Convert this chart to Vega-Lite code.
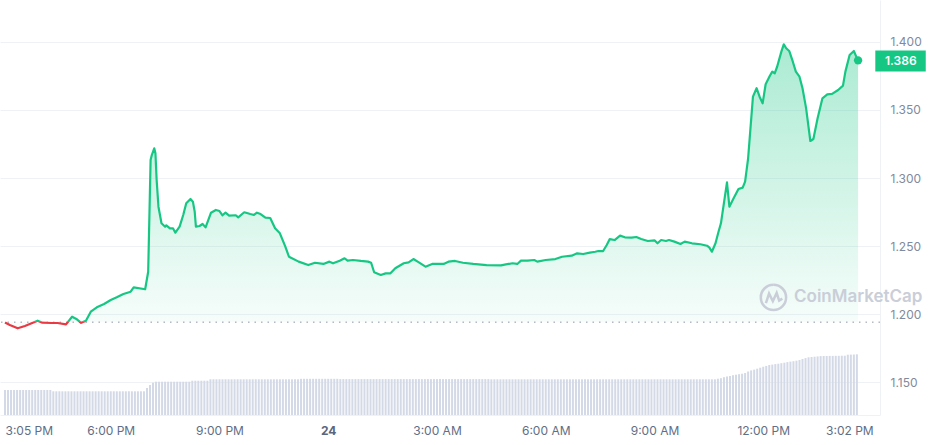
{
"$schema": "https://vega.github.io/schema/vega-lite/v6.json",
"width": 880, "height": 415,
"autosize": {"type": "none"},
"padding": {"left": 0, "top": 0, "right": 51, "bottom": 30},
"background": "white",
"config": {"view": {"stroke": null}, "font": "Inter"},
"datasets": {
"price": [
{"m":0,"p":1.1938},{"m":8,"p":1.1919},{"m":21,"p":1.1895},{"m":33,"p":1.1912},{"m":44,"p":1.1932},{"m":54,"p":1.1951},{"m":62,"p":1.1936},{"m":77,"p":1.1934},{"m":87,"p":1.1934},{"m":101,"p":1.1924},{"m":111,"p":1.1980},{"m":119,"p":1.1961},{"m":126,"p":1.1935},{"m":134,"p":1.1951},{"m":142,"p":1.2017},{"m":152,"p":1.2049},{"m":164,"p":1.2074},{"m":175,"p":1.2103},{"m":185,"p":1.2123},{"m":196,"p":1.2147},{"m":208,"p":1.2164},{"m":213,"p":1.2196},{"m":232,"p":1.2182},{"m":237,"p":1.2311},{"m":241,"p":1.3132},{"m":243,"p":1.3169},{"m":247,"p":1.3218},{"m":249,"p":1.3182},{"m":251,"p":1.2985},{"m":254,"p":1.2789},{"m":259,"p":1.2667},{"m":265,"p":1.2642},{"m":267,"p":1.2652},{"m":273,"p":1.2630},{"m":278,"p":1.2630},{"m":282,"p":1.2598},{"m":289,"p":1.2642},{"m":295,"p":1.2728},{"m":300,"p":1.2814},{"m":307,"p":1.2846},{"m":311,"p":1.2826},{"m":314,"p":1.2752},{"m":316,"p":1.2642},{"m":322,"p":1.2647},{"m":327,"p":1.2662},{"m":332,"p":1.2637},{"m":341,"p":1.2745},{"m":349,"p":1.2765},{"m":355,"p":1.2757},{"m":360,"p":1.2726},{"m":365,"p":1.2745},{"m":371,"p":1.2723},{"m":382,"p":1.2726},{"m":386,"p":1.2711},{"m":396,"p":1.2748},{"m":406,"p":1.2735},{"m":412,"p":1.2728},{"m":417,"p":1.2745},{"m":423,"p":1.2735},{"m":431,"p":1.2708},{"m":439,"p":1.2706},{"m":447,"p":1.2630},{"m":455,"p":1.2593},{"m":464,"p":1.2495},{"m":470,"p":1.2421},{"m":475,"p":1.2410},{"m":486,"p":1.2385},{"m":502,"p":1.2360},{"m":513,"p":1.2377},{"m":527,"p":1.2368},{"m":537,"p":1.2385},{"m":543,"p":1.2373},{"m":554,"p":1.2392},{"m":562,"p":1.2410},{"m":567,"p":1.2392},{"m":576,"p":1.2397},{"m":589,"p":1.2390},{"m":601,"p":1.2385},{"m":606,"p":1.2377},{"m":611,"p":1.2307},{"m":622,"p":1.2287},{"m":630,"p":1.2299},{"m":638,"p":1.2299},{"m":646,"p":1.2336},{"m":660,"p":1.2373},{"m":668,"p":1.2380},{"m":676,"p":1.2404},{"m":685,"p":1.2380},{"m":696,"p":1.2348},{"m":707,"p":1.2368},{"m":726,"p":1.2368},{"m":734,"p":1.2385},{"m":745,"p":1.2390},{"m":758,"p":1.2377},{"m":775,"p":1.2368},{"m":797,"p":1.2360},{"m":821,"p":1.2358},{"m":829,"p":1.2365},{"m":840,"p":1.2373},{"m":848,"p":1.2368},{"m":854,"p":1.2392},{"m":865,"p":1.2392},{"m":876,"p":1.2397},{"m":881,"p":1.2385},{"m":895,"p":1.2397},{"m":911,"p":1.2404},{"m":922,"p":1.2421},{"m":938,"p":1.2429},{"m":947,"p":1.2446},{"m":957,"p":1.2441},{"m":968,"p":1.2451},{"m":977,"p":1.2458},{"m":982,"p":1.2463},{"m":990,"p":1.2463},{"m":996,"p":1.2507},{"m":1001,"p":1.2551},{"m":1009,"p":1.2544},{"m":1018,"p":1.2576},{"m":1026,"p":1.2564},{"m":1037,"p":1.2561},{"m":1045,"p":1.2566},{"m":1053,"p":1.2551},{"m":1064,"p":1.2537},{"m":1075,"p":1.2542},{"m":1080,"p":1.2520},{"m":1086,"p":1.2544},{"m":1094,"p":1.2537},{"m":1099,"p":1.2544},{"m":1108,"p":1.2532},{"m":1118,"p":1.2515},{"m":1125,"p":1.2532},{"m":1137,"p":1.2520},{"m":1151,"p":1.2513},{"m":1162,"p":1.2502},{"m":1166,"p":1.2488},{"m":1170,"p":1.2458},{"m":1176,"p":1.2520},{"m":1181,"p":1.2605},{"m":1185,"p":1.2667},{"m":1195,"p":1.2968},{"m":1199,"p":1.2789},{"m":1206,"p":1.2851},{"m":1214,"p":1.2919},{"m":1221,"p":1.2929},{"m":1225,"p":1.2973},{"m":1230,"p":1.3145},{"m":1238,"p":1.3598},{"m":1244,"p":1.3660},{"m":1249,"p":1.3598},{"m":1254,"p":1.3549},{"m":1259,"p":1.3689},{"m":1266,"p":1.3752},{"m":1270,"p":1.3782},{"m":1274,"p":1.3770},{"m":1278,"p":1.3818},{"m":1285,"p":1.3929},{"m":1289,"p":1.3983},{"m":1293,"p":1.3954},{"m":1298,"p":1.3934},{"m":1304,"p":1.3855},{"m":1309,"p":1.3782},{"m":1315,"p":1.3745},{"m":1320,"p":1.3660},{"m":1326,"p":1.3512},{"m":1333,"p":1.3272},{"m":1338,"p":1.3287},{"m":1345,"p":1.3439},{"m":1353,"p":1.3586},{"m":1361,"p":1.3615},{"m":1369,"p":1.3618},{"m":1379,"p":1.3647},{"m":1387,"p":1.3679},{"m":1391,"p":1.3782},{"m":1398,"p":1.3904},{"m":1405,"p":1.3934},{"m":1409,"p":1.3892},{"m":1412,"p":1.3865}
],
"vol": [
{"m":0,"v":25},{"m":5,"v":25},{"m":10,"v":25},{"m":15,"v":25},{"m":20,"v":25},{"m":25,"v":25},{"m":30,"v":25},{"m":35,"v":25},{"m":40,"v":25},{"m":45,"v":25},{"m":50,"v":25},{"m":55,"v":25},{"m":60,"v":25},{"m":65,"v":25},{"m":70,"v":25},{"m":75,"v":25},
{"m":80,"v":23.7},{"m":85,"v":23.7},{"m":90,"v":23.7},{"m":95,"v":23.7},{"m":100,"v":23.7},{"m":105,"v":23.7},{"m":110,"v":23.7},{"m":115,"v":23.7},{"m":120,"v":23.7},{"m":125,"v":23.7},{"m":130,"v":23.7},{"m":135,"v":23.7},{"m":140,"v":23.7},{"m":145,"v":23.7},{"m":150,"v":23.7},{"m":155,"v":23.7},{"m":160,"v":23.7},{"m":165,"v":23.7},{"m":170,"v":23.7},{"m":175,"v":23.7},{"m":180,"v":23.7},{"m":185,"v":23.7},{"m":190,"v":23.7},{"m":195,"v":23.7},{"m":200,"v":23.7},{"m":205,"v":23.7},{"m":210,"v":23.7},{"m":215,"v":23.7},{"m":220,"v":23.7},{"m":225,"v":23.7},{"m":230,"v":23.7},
{"m":235,"v":27},{"m":240,"v":30},{"m":245,"v":32.3},
{"m":250,"v":33.3},{"m":255,"v":33.3},{"m":260,"v":33.3},{"m":265,"v":33.3},{"m":270,"v":33.3},{"m":275,"v":33.3},{"m":280,"v":33.3},{"m":285,"v":33.3},{"m":290,"v":33.3},{"m":295,"v":33.3},{"m":300,"v":33.3},{"m":305,"v":33.3},
{"m":310,"v":34.3},{"m":315,"v":34.3},{"m":320,"v":34.3},{"m":325,"v":34.3},{"m":330,"v":34.3},{"m":335,"v":34.3},
{"m":340,"v":35.7},{"m":345,"v":35.7},{"m":350,"v":35.7},{"m":355,"v":35.7},{"m":360,"v":35.7},{"m":365,"v":35.7},{"m":370,"v":35.7},{"m":375,"v":35.7},{"m":380,"v":35.7},{"m":385,"v":35.7},{"m":390,"v":35.7},{"m":395,"v":35.7},{"m":400,"v":35.7},{"m":405,"v":35.7},{"m":410,"v":35.7},{"m":415,"v":35.7},{"m":420,"v":35.7},{"m":425,"v":35.7},{"m":430,"v":35.7},{"m":435,"v":35.7},{"m":440,"v":35.7},{"m":445,"v":35.7},{"m":450,"v":35.7},{"m":455,"v":35.7},{"m":460,"v":35.7},{"m":465,"v":35.7},{"m":470,"v":35.7},{"m":475,"v":35.7},{"m":480,"v":35.7},{"m":485,"v":35.7},
{"m":490,"v":36.2},{"m":495,"v":36.2},{"m":500,"v":36.2},{"m":505,"v":36.2},{"m":510,"v":36.2},{"m":515,"v":36.2},{"m":520,"v":36.2},{"m":525,"v":36.2},{"m":530,"v":36.2},{"m":535,"v":36.2},{"m":540,"v":36.2},{"m":545,"v":36.2},{"m":550,"v":36.2},
{"m":555,"v":35.9},{"m":560,"v":35.9},{"m":565,"v":35.9},{"m":570,"v":35.9},{"m":575,"v":35.9},{"m":580,"v":35.9},{"m":585,"v":35.9},{"m":590,"v":35.9},{"m":595,"v":35.9},{"m":600,"v":35.9},{"m":605,"v":35.9},{"m":610,"v":35.9},{"m":615,"v":35.9},{"m":620,"v":35.9},{"m":625,"v":35.9},{"m":630,"v":35.9},{"m":635,"v":35.9},{"m":640,"v":35.9},{"m":645,"v":35.9},{"m":650,"v":35.9},{"m":655,"v":35.9},{"m":660,"v":35.9},{"m":665,"v":35.9},{"m":670,"v":35.9},{"m":675,"v":35.9},{"m":680,"v":35.9},{"m":685,"v":35.9},{"m":690,"v":35.9},{"m":695,"v":35.9},{"m":700,"v":35.9},{"m":705,"v":35.9},{"m":710,"v":35.9},{"m":715,"v":35.9},{"m":720,"v":35.9},{"m":725,"v":35.9},{"m":730,"v":35.9},{"m":735,"v":35.9},{"m":740,"v":35.9},{"m":745,"v":35.9},{"m":750,"v":35.9},{"m":755,"v":35.9},{"m":760,"v":35.9},{"m":765,"v":35.9},{"m":770,"v":35.9},{"m":775,"v":35.9},{"m":780,"v":35.9},{"m":785,"v":35.9},{"m":790,"v":35.9},{"m":795,"v":35.9},{"m":800,"v":35.9},
{"m":805,"v":35.7},{"m":810,"v":35.7},{"m":815,"v":35.7},{"m":820,"v":35.7},{"m":825,"v":35.7},{"m":830,"v":35.7},{"m":835,"v":35.7},{"m":840,"v":35.7},{"m":845,"v":35.7},{"m":850,"v":35.7},{"m":855,"v":35.7},{"m":860,"v":35.7},{"m":865,"v":35.7},{"m":870,"v":35.7},{"m":875,"v":35.7},{"m":880,"v":35.7},{"m":885,"v":35.7},{"m":890,"v":35.7},{"m":895,"v":35.7},{"m":900,"v":35.7},{"m":905,"v":35.7},{"m":910,"v":35.7},{"m":915,"v":35.7},{"m":920,"v":35.7},{"m":925,"v":35.7},{"m":930,"v":35.7},{"m":935,"v":35.7},{"m":940,"v":35.7},{"m":945,"v":35.7},{"m":950,"v":35.7},{"m":955,"v":35.7},{"m":960,"v":35.7},{"m":965,"v":35.7},{"m":970,"v":35.7},{"m":975,"v":35.7},{"m":980,"v":35.7},{"m":985,"v":35.7},{"m":990,"v":35.7},{"m":995,"v":35.7},{"m":1000,"v":35.7},{"m":1005,"v":35.7},{"m":1010,"v":35.7},{"m":1015,"v":35.7},{"m":1020,"v":35.7},{"m":1025,"v":35.7},{"m":1030,"v":35.7},{"m":1035,"v":35.7},{"m":1040,"v":35.7},{"m":1045,"v":35.7},{"m":1050,"v":35.7},{"m":1055,"v":35.7},{"m":1060,"v":35.7},{"m":1065,"v":35.7},{"m":1070,"v":35.7},{"m":1075,"v":35.7},{"m":1080,"v":35.7},{"m":1085,"v":35.7},{"m":1090,"v":35.7},{"m":1095,"v":35.7},{"m":1100,"v":35.7},{"m":1105,"v":35.7},{"m":1110,"v":35.7},{"m":1115,"v":35.7},{"m":1120,"v":35.7},{"m":1125,"v":35.7},{"m":1130,"v":35.7},{"m":1135,"v":35.7},{"m":1140,"v":35.7},{"m":1145,"v":35.7},{"m":1150,"v":35.7},{"m":1155,"v":35.7},{"m":1160,"v":35.7},{"m":1165,"v":35.7},{"m":1170,"v":35.7},{"m":1175,"v":35.7},
{"m":1180,"v":36.3},{"m":1185,"v":36.8},{"m":1190,"v":37.8},{"m":1195,"v":38.5},{"m":1200,"v":39},{"m":1205,"v":39.8},{"m":1210,"v":40.3},{"m":1215,"v":40.8},{"m":1220,"v":41.3},{"m":1225,"v":42},{"m":1230,"v":43.5},{"m":1235,"v":44.6},{"m":1240,"v":45.4},{"m":1245,"v":46.3},{"m":1250,"v":47.3},{"m":1255,"v":48.3},{"m":1260,"v":49.1},{"m":1265,"v":50},{"m":1270,"v":50.4},{"m":1275,"v":50.9},{"m":1280,"v":51.3},{"m":1285,"v":51.8},{"m":1290,"v":52.3},{"m":1295,"v":52.9},{"m":1300,"v":53.4},{"m":1305,"v":53.8},{"m":1310,"v":54.3},{"m":1315,"v":55},{"m":1320,"v":56},{"m":1325,"v":56.9},{"m":1330,"v":57.7},{"m":1335,"v":58},{"m":1340,"v":58.3},{"m":1345,"v":58.6},{"m":1350,"v":58.9},{"m":1355,"v":59},{"m":1360,"v":59},{"m":1365,"v":59.1},{"m":1370,"v":59.1},{"m":1375,"v":59.2},{"m":1380,"v":59.2},{"m":1385,"v":59.3},{"m":1390,"v":59.3},{"m":1395,"v":60.3},{"m":1400,"v":60.4},{"m":1405,"v":60.5},{"m":1410,"v":60.7}
]
},
"resolve": {"scale": {"y": "independent"}},
"layer": [
{
"data": {"name": "vol"},
"mark": {"type": "bar", "orient": "vertical", "width": 2, "color": "#d3d9e6"},
"encoding": {
"x": {"field": "m", "type": "quantitative", "title": null, "scale": {"domain": [0, 1440], "nice": false, "zero": false},
"axis": {"values": [0,175,355,535,715,895,1075,1255,1437], "ticks": false, "grid": false, "domain": true, "domainColor": "#eff2f5", "labelPadding": 10, "labelFontSize": 12, "labelFont": "Inter",
"labelAlign": {"condition": [{"test": "datum.value == 0", "value": "left"}, {"test": "datum.value == 1437", "value": "right"}], "value": "center"},
"labelColor": {"condition": {"test": "datum.value == 535", "value": "#58667e"}, "value": "#616e85"},
"labelFontWeight": {"condition": {"test": "datum.value == 535", "value": "bold"}, "value": "normal"},
"labelExpr": "datum.value == 0 ? '3:05 PM' : datum.value == 175 ? '6:00 PM' : datum.value == 355 ? '9:00 PM' : datum.value == 535 ? '24' : datum.value == 715 ? '3:00 AM' : datum.value == 895 ? '6:00 AM' : datum.value == 1075 ? '9:00 AM' : datum.value == 1255 ? '12:00 PM' : '3:02 PM'"}},
"y": {"field": "v", "type": "quantitative", "title": null, "scale": {"domain": [0, 415], "nice": false}, "axis": null}
}
},
{
"layer": [
{
"data": {"name": "price"},
"mark": {"type": "area", "interpolate": "linear",
"color": {"gradient": "linear", "x1": 0, "y1": 0, "x2": 0, "y2": 1, "stops": [{"offset": 0, "color": "rgba(22,199,132,0.36)"}, {"offset": 1, "color": "rgba(22,199,132,0.03)"}]}},
"encoding": {
"x": {"field": "m", "type": "quantitative", "title": null},
"y": {"field": "p", "type": "quantitative", "title": null,
"scale": {"domain": [1.12574, 1.43088], "nice": false, "zero": false},
"axis": {"orient": "right", "values": [1.15, 1.2, 1.25, 1.3, 1.35, 1.4], "format": ".3f", "ticks": false, "grid": true, "gridColor": "#eff2f5", "domain": true, "domainColor": "#eff2f5", "labelPadding": 10, "labelFontSize": 12, "labelFont": "Inter", "labelColor": "#808a9d"}},
"y2": {"datum": 1.194}
}
},
{
"data": {"values": [{"brand": "CoinMarketCap", "open": 1.194}]},
"mark": {"type": "text", "align": "left", "baseline": "middle", "font": "Inter", "fontSize": 17, "fontWeight": 600, "color": "#c9ced8"},
"encoding": {
"x": {"datum": 1306},
"y": {"datum": 1.2122},
"text": {"field": "brand"}
}
},
{
"data": {"values": [{"brand": "CoinMarketCap"}]},
"mark": {"type": "point", "filled": false, "size": 640, "strokeWidth": 2.5, "color": "#c9ced8", "opacity": 1,
"shape": "M 0 -1 A 1 1 0 1 1 -0.01 -1 M -0.6 0.45 L -0.35 -0.3 L -0.05 0.3 L 0.25 -0.35 L 0.45 0.25 L 0.7 0.1"},
"encoding": {
"x": {"datum": 1272},
"y": {"datum": 1.2122}
}
},
{
"data": {"values": [{"open": 1.194}]},
"mark": {"type": "rule", "color": "#8f97a8", "strokeWidth": 1, "strokeDash": [1.5, 5]},
"encoding": {
"y": {"field": "open", "type": "quantitative", "title": null}
}
},
{
"data": {"name": "price"},
"mark": {"type": "line", "interpolate": "linear", "strokeWidth": 2.2, "strokeJoin": "round",
"color": {"gradient": "linear", "x1": 0, "y1": 0, "x2": 0, "y2": 1, "stops": [{"offset": 0, "color": "#16c784"}, {"offset": 0.9785, "color": "#16c784"}, {"offset": 0.9785, "color": "#ea3943"}, {"offset": 1, "color": "#ea3943"}]}},
"encoding": {
"x": {"field": "m", "type": "quantitative", "title": null},
"y": {"field": "p", "type": "quantitative", "title": null}
}
},
{
"data": {"name": "price"},
"transform": [{"filter": "datum.m == 1412"}],
"mark": {"type": "point", "filled": true, "size": 70, "color": "#16c784", "opacity": 1},
"encoding": {
"x": {"field": "m", "type": "quantitative", "title": null},
"y": {"field": "p", "type": "quantitative", "title": null}
}
},
{
"data": {"values": [{"label": "1.386"}]},
"mark": {"type": "rect", "color": "#16c784"},
"encoding": {
"x": {"datum": 1440.5},
"x2": {"datum": 1524},
"y": {"datum": 1.3937},
"y2": {"datum": 1.3783}
}
},
{
"data": {"values": [{"label": "1.386"}]},
"mark": {"type": "text", "align": "left", "baseline": "middle", "dx": 10, "font": "Inter", "fontSize": 12, "fontWeight": 600, "color": "white"},
"encoding": {
"x": {"datum": 1440},
"y": {"datum": 1.386},
"text": {"field": "label"}
}
}
]
}
]
}
